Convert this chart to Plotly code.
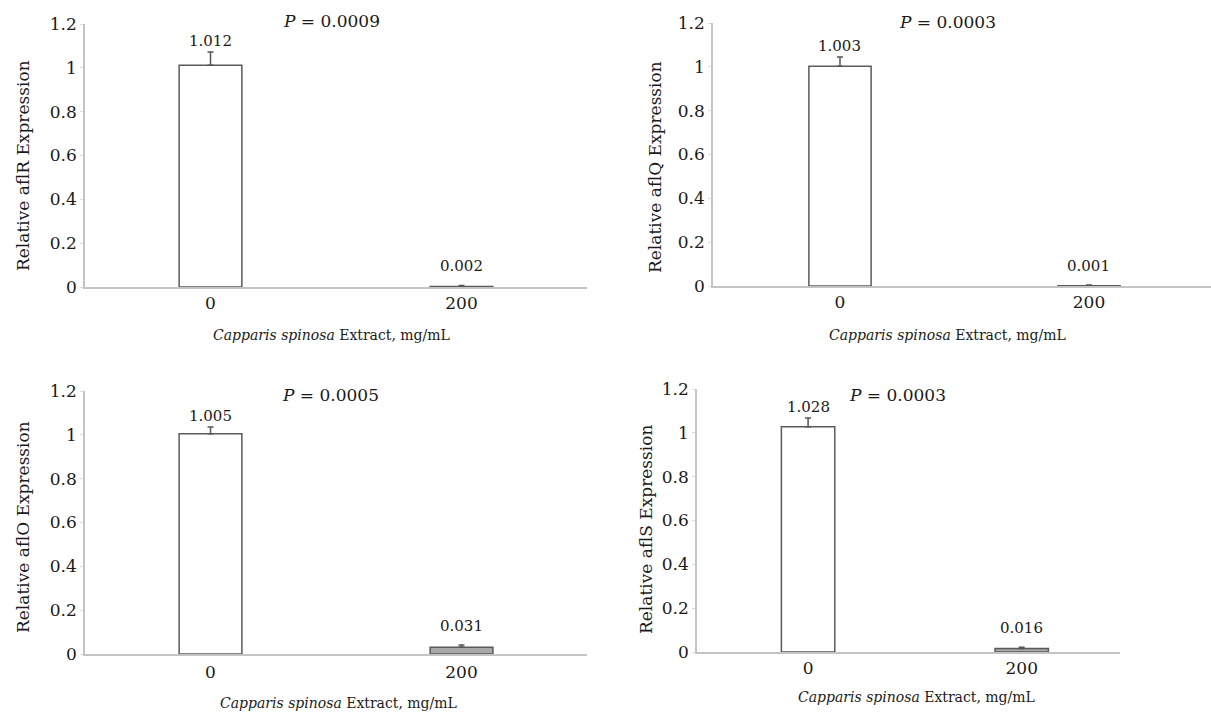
import plotly.graph_objects as go

# ---------------- data ----------------
doses = ["0", "200"]
genes = ["aflR", "aflQ", "aflO", "aflS"]

aflR_values = [1.012, 0.002]
aflR_errors = [0.060, 0.005]
aflQ_values = [1.003, 0.001]
aflQ_errors = [0.042, 0.004]
aflO_values = [1.005, 0.031]
aflO_errors = [0.031, 0.010]
aflS_values = [1.028, 0.016]
aflS_errors = [0.040, 0.006]

p_values = ["0.0009", "0.0003", "0.0005", "0.0003"]

y_tickvals = [0, 0.2, 0.4, 0.6, 0.8, 1.0, 1.2]
y_ticktext = ["0", "0.2", "0.4", "0.6", "0.8", "1", "1.2"]

x_title = "<i>Capparis spinosa</i> Extract, mg/mL"

# ---------------- layout helpers ----------------
W, H = 1211, 716
FONT = "DejaVu Serif"
TXT = "#1a1a1a"


def px(x):
    return x / W


def py(y):
    return 1 - y / H


series = [
    (aflR_values, aflR_errors),
    (aflQ_values, aflQ_errors),
    (aflO_values, aflO_errors),
    (aflS_values, aflS_errors),
]

# panel geometry (pixels)
panels = [
    dict(x0=85, x1=587, yt=24, yb=287, rng=[-0.5, 1.5], sto=0,
         p=(331, 21), yt_c=(23, 166), xt_c=(331, 335)),
    dict(x0=713, x1=1211, yt=23, yb=286, rng=[-0.51, 1.49], sto=0,
         p=(947, 22), yt_c=(655, 167), xt_c=(947, 335)),
    dict(x0=85, x1=587, yt=391, yb=654, rng=[-0.5, 1.5], sto=2,
         p=(330, 395), yt_c=(23, 527), xt_c=(338, 703)),
    dict(x0=697, x1=1120, yt=389, yb=652, rng=[-0.52, 1.46], sto=0,
         p=(897, 395), yt_c=(646, 530), xt_c=(916, 697)),
]

fig = go.Figure()
annotations = []
layout_axes = {}

for i, (gene, (vals, errs), pan, pv) in enumerate(zip(genes, series, panels, p_values)):
    n = "" if i == 0 else str(i + 1)
    xa, ya = "x" + n, "y" + n
    fig.add_trace(go.Bar(
        x=doses, y=vals, xaxis=xa, yaxis=ya, width=0.25,
        marker=dict(color=["#ffffff", "#a8a8a8"],
                    line=dict(color="#5a5a5a", width=1.5)),
        error_y=dict(type="data", array=errs, symmetric=False,
                     arrayminus=[0, 0], color="#555555",
                     thickness=1.5, width=3),
        showlegend=False, hoverinfo="x+y",
    ))
    layout_axes["xaxis" + n] = dict(
        domain=[px(pan["x0"]), px(pan["x1"])], anchor=ya,
        type="category", range=pan["rng"], automargin=False,
        showline=True, linecolor="#c4c4c4", linewidth=1.5,
        showgrid=False, zeroline=False, ticks="",
        ticklabelstandoff=pan["sto"],
        tickfont=dict(family=FONT, size=17, color=TXT),
        fixedrange=True,
    )
    layout_axes["yaxis" + n] = dict(
        domain=[py(pan["yb"]), py(pan["yt"])], anchor=xa,
        range=[0, 1.2], tickvals=y_tickvals, ticktext=y_ticktext,
        automargin=False,
        showline=True, linecolor="#c4c4c4", linewidth=1.5,
        showgrid=False, zeroline=False,
        ticks="outside", ticklen=3, tickcolor="#dddddd",
        tickfont=dict(family=FONT, size=17, color=TXT),
        fixedrange=True,
    )
    # value labels (x given as category index)
    for j, (v, e) in enumerate(zip(vals, errs)):
        annotations.append(dict(
            x=j, y=v + e, xref=xa, yref=ya, text=f"{v:.3f}",
            showarrow=False, yanchor="bottom", yshift=0 if j == 0 else 8,
            font=dict(family=FONT, size=15, color=TXT),
        ))
    # P value
    annotations.append(dict(
        x=px(pan["p"][0]), y=py(pan["p"][1]), xref="paper", yref="paper",
        text=f"<i>P</i> = {pv}", showarrow=False,
        xanchor="center", yanchor="middle",
        font=dict(family=FONT, size=17, color=TXT),
    ))
    # y title
    annotations.append(dict(
        x=px(pan["yt_c"][0]), y=py(pan["yt_c"][1]), xref="paper", yref="paper",
        text=f"Relative {gene} Expression", textangle=-90, showarrow=False,
        xanchor="center", yanchor="middle",
        font=dict(family=FONT, size=17, color=TXT),
    ))
    # x title
    annotations.append(dict(
        x=px(pan["xt_c"][0]), y=py(pan["xt_c"][1]), xref="paper", yref="paper",
        text=x_title, showarrow=False,
        xanchor="center", yanchor="middle",
        font=dict(family=FONT, size=14, color=TXT),
    ))

fig.update_layout(
    width=W, height=H,
    margin=dict(l=0, r=0, t=0, b=0, autoexpand=False),
    paper_bgcolor="white", plot_bgcolor="white",
    annotations=annotations,
    **layout_axes,
)

fig.write_html("out.html", config={"displayModeBar": False},
               post_script="document.body.style.margin='0';")
